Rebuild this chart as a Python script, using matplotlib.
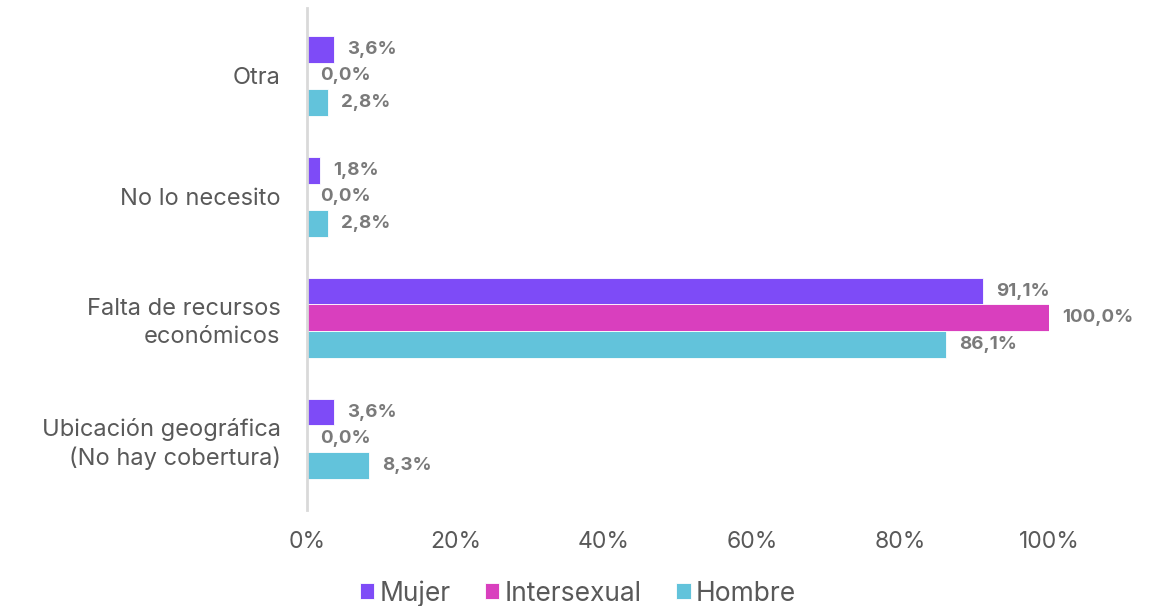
import numpy as np
import matplotlib.pyplot as plt

# Data
categories = ['Otra', 'No lo necesito', 'Falta de recursos\neconómicos',
              'Ubicación geográfica\n(No hay cobertura)']
series = ['Mujer', 'Intersexual', 'Hombre']
mujer = [3.6, 1.8, 91.1, 3.6]
intersexual = [0.0, 0.0, 100.0, 0.0]
hombre = [2.8, 2.8, 86.1, 8.3]
colors = ['#7E4BF7', '#D93FBE', '#62C3DB']

plt.rcParams['font.family'] = ['Inter', 'DejaVu Sans']

fig = plt.figure(figsize=(11.51, 6.06), dpi=100)
ax = fig.add_axes([0.2667, 0.1584, 0.6447, 0.8284])

y = np.arange(len(categories))
h = 0.223
values = [mujer, intersexual, hombre]
offsets = [-h, 0, h]

for vals, off, col, name in zip(values, offsets, colors, series):
    bars = ax.barh(y + off, vals, height=h, color=col, label=name,
                   edgecolor='white', linewidth=0.6)
    for b, v in zip(bars, vals):
        ax.annotate(f'{v:.1f}%'.replace('.', ','),
                    xy=(b.get_width(), b.get_y() + b.get_height() / 2),
                    xytext=(9.5, 0), textcoords='offset points',
                    ha='left', va='center', fontsize=13.5,
                    fontweight='bold', color='#7a7a7a')

ax.set_ylim(3.587, -0.562)
ax.set_xlim(0, 100)
ax.set_yticks(y)
ax.set_yticklabels(categories, fontsize=17, color='#595959',
                   linespacing=1.3)
ax.set_xticks([0, 20, 40, 60, 80, 100])
ax.set_xticklabels([f'{t}%' for t in [0, 20, 40, 60, 80, 100]],
                   fontsize=16.5, color='#595959')
ax.tick_params(axis='both', length=0)
ax.tick_params(axis='x', pad=15)
ax.tick_params(axis='y', pad=19)

for s in ['top', 'right', 'bottom']:
    ax.spines[s].set_visible(False)
ax.spines['left'].set_color('#d9d9d9')
ax.spines['left'].set_linewidth(2)

fig.legend(loc='center', bbox_to_anchor=(0.502, 0.021), ncol=3, frameon=False,
           fontsize=19, handlelength=0.55, handleheight=0.55,
           handletextpad=0.2, columnspacing=1.3, labelcolor='#595959')

fig.savefig('out.png', dpi=100)
